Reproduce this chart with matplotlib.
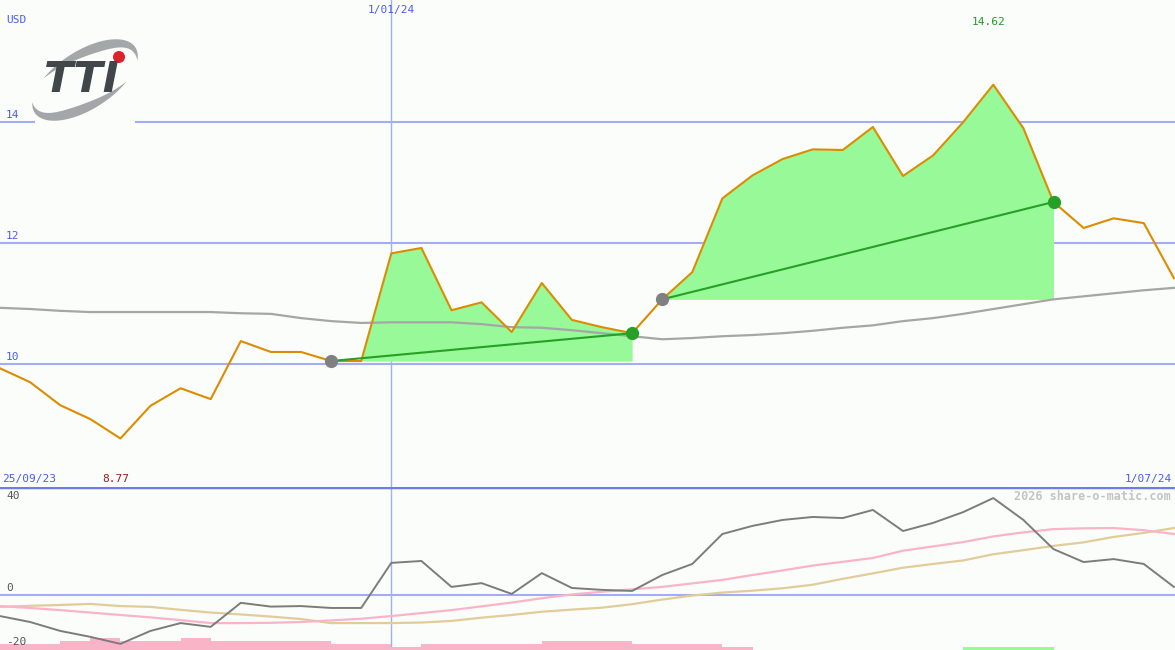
import numpy as np
import matplotlib.pyplot as plt
from matplotlib.patches import Rectangle, Circle, Polygon
from matplotlib import transforms

# weekly closes (USD), 25/09/23 .. 1/07/24
price = [9.93, 9.70, 9.32, 9.09, 8.77, 9.31, 9.60, 9.42, 10.38, 10.20,
         10.20, 10.05, 10.05, 11.83, 11.92, 10.89, 11.02, 10.53, 11.34, 10.73,
         10.61, 10.51, 11.07, 11.52, 12.74, 13.12, 13.39, 13.55, 13.54, 13.92,
         13.11, 13.45, 14.00, 14.62, 13.90, 12.68, 12.25, 12.41, 12.33, 11.42]

# slow moving average
ma = [10.93, 10.91, 10.88, 10.86, 10.86, 10.86, 10.86, 10.86, 10.84, 10.83,
      10.76, 10.71, 10.68, 10.69, 10.69, 10.69, 10.66, 10.61, 10.60, 10.56,
      10.51, 10.46, 10.41, 10.43, 10.46, 10.48, 10.51, 10.55, 10.60, 10.64,
      10.71, 10.76, 10.83, 10.91, 10.99, 11.07, 11.12, 11.17, 11.22, 11.26]

# lower panel oscillators
osc = [-7.8, -10.0, -13.3, -15.5, -18.1, -13.3, -10.4, -11.8, -2.9, -4.3,
       -4.1, -4.8, -4.8, 11.9, 12.6, 3.0, 4.4, 0.4, 8.1, 2.6,
       1.9, 1.5, 7.4, 11.5, 22.6, 25.6, 27.8, 28.9, 28.5, 31.5,
       23.7, 26.7, 30.7, 35.9, 27.8, 17.0, 12.2, 13.3, 11.5, 3.0]
sig_pink = [-4.1, -4.8, -5.6, -6.5, -7.4, -8.3, -9.3, -10.4, -10.4, -10.3,
            -10.0, -9.4, -8.8, -7.8, -6.7, -5.6, -4.2, -2.8, -1.2, 0.2,
            1.2, 2.1, 3.0, 4.3, 5.6, 7.4, 9.1, 10.9, 12.3, 13.7,
            16.4, 18.0, 19.6, 21.7, 23.2, 24.4, 24.7, 24.8, 24.0, 22.6]
sig_tan = [-4.4, -4.0, -3.7, -3.3, -4.1, -4.4, -5.5, -6.5, -7.2, -8.0,
           -8.9, -10.4, -10.4, -10.4, -10.2, -9.6, -8.4, -7.4, -6.2, -5.4,
           -4.7, -3.4, -1.7, -0.2, 0.9, 1.6, 2.5, 3.8, 6.0, 8.0,
           10.1, 11.5, 12.8, 15.1, 16.6, 18.2, 19.5, 21.5, 23.0, 24.8]
bars = [-2, -2, -3, -4, -3, -3, -4, -3, -3, -3,
        -3, -2, -2, -1, -2, -2, -2, -2, -3, -3,
        -3, -2, -2, -2, -1, 0, 0, 0, 0, 0,
        0, 0, 1, 1, 1, 0, 0, 0, 0, 0]

# rising runs: (start index, end index)
trends = [(11, 21), (22, 35)]
date_ticks = {0: '25/09/23', 13: '1/01/24', 39: '1/07/24'}

x = np.arange(len(price))
price = np.array(price)

bg = '#fbfdfb'
grid_c = '#a3adf2'
orange = '#dc8c00'
font = 'DejaVu Sans Mono'

fig = plt.figure(figsize=(11.75, 6.5), dpi=100, facecolor=bg)
ax = fig.add_axes([0, 163 / 650, 1, 487 / 650], facecolor=bg)
ax2 = fig.add_axes([0, 0, 1, 163 / 650], facecolor=bg)

xmax = 1175 / 30.1
for a in (ax, ax2):
    a.set_xlim(0, xmax)
    a.axis('off')
ax.set_ylim(7.967, 16.02)
ax2.set_ylim(-20.37, 40)

# grid
for lvl in (10, 12, 14):
    ax.axhline(lvl, color=grid_c, lw=1.5, zorder=1)
    ax.text(0.2, lvl + 0.04, str(lvl), color='#4a5cf0', fontsize=8,
            family=font, va='bottom', ha='left')
ax.axvline(13, color=grid_c, lw=1, zorder=1)
ax2.axvline(13, color=grid_c, lw=1, zorder=1)
ax2.axhline(0, color=grid_c, lw=1.5, zorder=1)
ax2.axhline(40, color='#6c7cea', lw=2.5, zorder=5)

# price panel
for s, e in trends:
    xs = x[s:e + 1]
    ax.fill_between(xs, price[s:e + 1], price[s], color='#97f997', lw=0, zorder=2)
ax.plot(x, ma, color='#a6a6a6', lw=1.6, zorder=2.5)
for s, e in trends:
    ax.plot([s, e], [price[s], price[e]], color='#26a026', lw=1.5, zorder=4)
ax.plot(x, price, color=orange, lw=1.5, zorder=3)
for s, e in trends:
    ax.plot(s, price[s], 'o', color='#808080', ms=8.5, zorder=5)
    ax.plot(e, price[e], 'o', color='#26a026', ms=8.5, zorder=5)

hi = int(np.argmax(price))
lo = int(np.argmin(price))
ax.text(hi - 0.15, 15.65, f'{price[hi]:.2f}', color='#229922', fontsize=8,
        family=font, ha='center', va='center')

tr = transforms.blended_transform_factory(ax.transData, ax.transAxes)
ax.text(lo - 0.15, 0.006, f'{price[lo]:.2f}', color='#a01818', fontsize=8,
        family=font, ha='center', va='bottom', transform=tr)
ax.text(0.07, 0.006, date_ticks[0], color='#4a5cf0', fontsize=8,
        family=font, ha='left', va='bottom', transform=tr)
ax.text(38.95, 0.006, date_ticks[39], color='#4a5cf0', fontsize=8,
        family=font, ha='right', va='bottom', transform=tr)
ax.text(13, 0.979, date_ticks[13], color='#4a5cf0', fontsize=8,
        family=font, ha='center', va='center', transform=tr)
ax.text(0.2, 0.959, 'USD', color='#4a5cf0', fontsize=8,
        family=font, ha='left', va='center', transform=tr)

# oscillator panel
ax2.plot(x, sig_tan, color='#e2cc9a', lw=1.6, zorder=3)
ax2.plot(x, sig_pink, color='#fab4c8', lw=1.6, zorder=3)
ax2.plot(x, osc, color='#7c7c7c', lw=1.4, zorder=4)
bar_unit = 1.11
bcol = ['#97f997' if b > 0 else '#fab4c8' for b in bars]
ax2.bar(x, [abs(b) * bar_unit for b in bars], width=1.0, align='edge',
        bottom=-20.37, color=bcol, lw=0, zorder=2)
for lvl, va in ((40, 'top'), (0, 'bottom'), (-20, 'bottom')):
    ax2.text(0.2, lvl - 1.5 if va == 'top' else lvl + 0.6, str(lvl),
             color='#555555', fontsize=8, family=font, va=va, ha='left')
ax2.text(0.996, 0.94, '2026 share-o-matic.com', color='#c4c4c4', fontsize=8.5,
         family=font, fontweight='bold', ha='right', va='center',
         transform=ax2.transAxes)

# logo
lax = fig.add_axes([0, 0, 1, 1])
lax.set_xlim(0, 1175)
lax.set_ylim(650, 0)
lax.axis('off')
lax.add_patch(Rectangle((35, 30), 100, 96, color=bg, lw=0))


def swoosh(t0, t1, cx=85, cy=80, a=60, b=29, w=10, phi=-33):
    t = np.radians(np.linspace(t0, t1, 80))
    p = np.radians(phi)
    taper = np.sin(np.pi * (t - t[0]) / (t[-1] - t[0]))
    outer = np.c_[cx + a * np.cos(t) * np.cos(p) - b * np.sin(t) * np.sin(p),
                  cy + a * np.cos(t) * np.sin(p) + b * np.sin(t) * np.cos(p)]
    ai = a - w * taper
    bi = b - w * taper
    inner = np.c_[cx + ai * np.cos(t) * np.cos(p) - bi * np.sin(t) * np.sin(p),
                  cy + ai * np.cos(t) * np.sin(p) + bi * np.sin(t) * np.cos(p)]
    return np.vstack([outer, inner[::-1]])


lax.add_patch(Polygon(swoosh(55, 200), color='#a3a7a9', lw=0))
lax.add_patch(Polygon(swoosh(235, 385), color='#a3a7a9', lw=0))
lax.text(82, 80, 'TTI', color='#40464a', fontsize=31, fontweight='bold',
         style='italic', family='DejaVu Sans', ha='center', va='center')
lax.add_patch(Circle((119, 57), 6, color='#e0202a', lw=0))

fig.savefig('out.png', dpi=100, facecolor=bg)
